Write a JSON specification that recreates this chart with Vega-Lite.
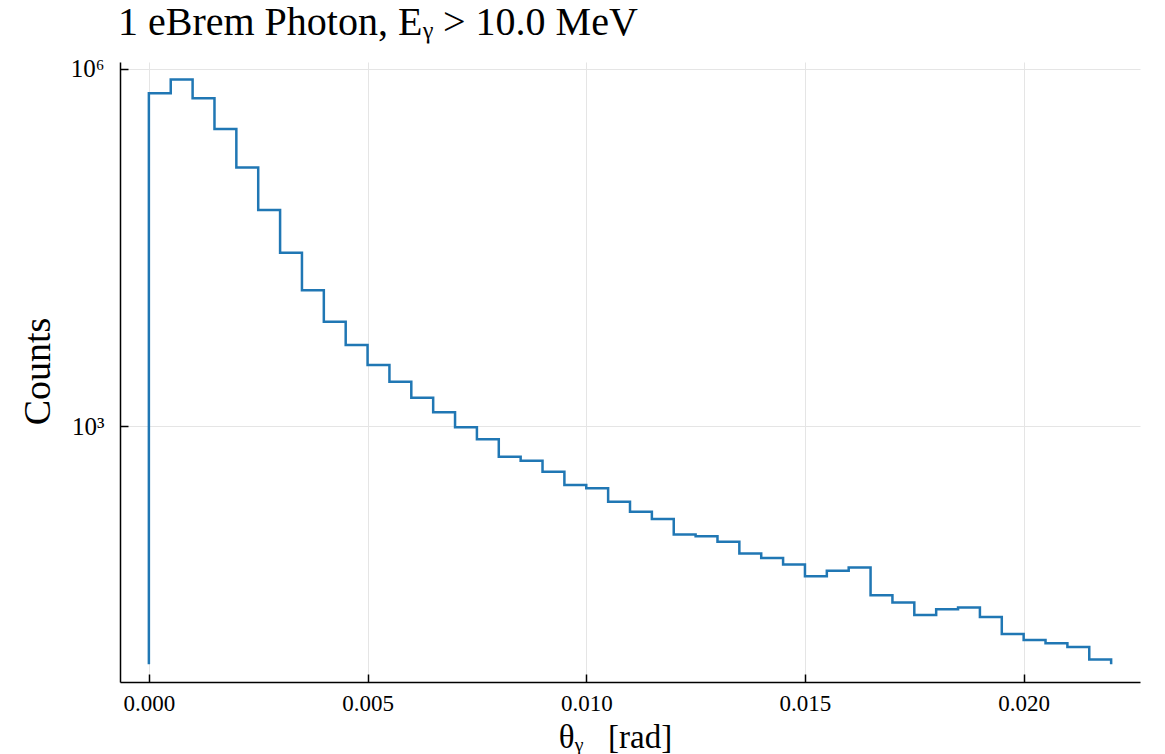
{
  "$schema": "https://vega.github.io/schema/vega-lite/v6.json",
  "width": 1020,
  "height": 620,
  "autosize": {"type": "none"},
  "padding": {"left": 120, "top": 62, "right": 25, "bottom": 72},
  "background": "white",
  "title": {
    "text": "1 eBrem Photon, Eᵧ > 10.0 MeV",
    "anchor": "start",
    "frame": "group",
    "font": "Liberation Serif",
    "fontSize": 40,
    "fontWeight": "normal",
    "color": "black",
    "baseline": "alphabetic",
    "offset": -18,
    "dx": -2
  },
  "config": {
    "view": {"stroke": null},
    "axis": {
      "labelFont": "Liberation Serif",
      "titleFont": "Liberation Serif",
      "labelColor": "black",
      "titleColor": "black",
      "titleFontWeight": "normal",
      "domainColor": "black",
      "domainWidth": 1.5,
      "tickColor": "black",
      "tickWidth": 1.5,
      "gridColor": "#e5e5e5",
      "gridWidth": 1
    }
  },
  "data": {
    "values": [
      {"i": 0, "theta": 0.0, "counts": 10},
      {"i": 1, "theta": 0.0, "counts": 620000},
      {"i": 2, "theta": 0.0005, "counts": 810000},
      {"i": 3, "theta": 0.001, "counts": 562000},
      {"i": 4, "theta": 0.0015, "counts": 311000},
      {"i": 5, "theta": 0.002, "counts": 148000},
      {"i": 6, "theta": 0.0025, "counts": 65000},
      {"i": 7, "theta": 0.003, "counts": 28500},
      {"i": 8, "theta": 0.0035, "counts": 13800},
      {"i": 9, "theta": 0.004, "counts": 7500},
      {"i": 10, "theta": 0.0045, "counts": 4780},
      {"i": 11, "theta": 0.005, "counts": 3250},
      {"i": 12, "theta": 0.0055, "counts": 2355},
      {"i": 13, "theta": 0.006, "counts": 1727},
      {"i": 14, "theta": 0.0065, "counts": 1303},
      {"i": 15, "theta": 0.007, "counts": 975},
      {"i": 16, "theta": 0.0075, "counts": 773},
      {"i": 17, "theta": 0.008, "counts": 553},
      {"i": 18, "theta": 0.0085, "counts": 512},
      {"i": 19, "theta": 0.009, "counts": 414},
      {"i": 20, "theta": 0.0095, "counts": 320},
      {"i": 21, "theta": 0.01, "counts": 300},
      {"i": 22, "theta": 0.0105, "counts": 232},
      {"i": 23, "theta": 0.011, "counts": 191},
      {"i": 24, "theta": 0.0115, "counts": 166},
      {"i": 25, "theta": 0.012, "counts": 123},
      {"i": 26, "theta": 0.0125, "counts": 119},
      {"i": 27, "theta": 0.013, "counts": 107},
      {"i": 28, "theta": 0.0135, "counts": 85},
      {"i": 29, "theta": 0.014, "counts": 78},
      {"i": 30, "theta": 0.0145, "counts": 69},
      {"i": 31, "theta": 0.015, "counts": 55},
      {"i": 32, "theta": 0.0155, "counts": 61},
      {"i": 33, "theta": 0.016, "counts": 65},
      {"i": 34, "theta": 0.0165, "counts": 38},
      {"i": 35, "theta": 0.017, "counts": 33},
      {"i": 36, "theta": 0.0175, "counts": 26},
      {"i": 37, "theta": 0.018, "counts": 29},
      {"i": 38, "theta": 0.0185, "counts": 30},
      {"i": 39, "theta": 0.019, "counts": 25},
      {"i": 40, "theta": 0.0195, "counts": 18},
      {"i": 41, "theta": 0.02, "counts": 16},
      {"i": 42, "theta": 0.0205, "counts": 15},
      {"i": 43, "theta": 0.021, "counts": 14},
      {"i": 44, "theta": 0.0215, "counts": 11},
      {"i": 45, "theta": 0.022, "counts": 11},
      {"i": 46, "theta": 0.022, "counts": 10}
    ]
  },
  "mark": {"type": "line", "interpolate": "step-after", "color": "#2077b4", "strokeWidth": 2.5, "clip": true},
  "encoding": {
    "order": {"field": "i", "type": "quantitative"},
    "x": {
      "field": "theta",
      "type": "quantitative",
      "scale": {"domain": [-0.00066, 0.02266], "nice": false, "zero": false},
      "axis": {
        "values": [0, 0.005, 0.01, 0.015, 0.02],
        "format": ".3f",
        "title": "θᵧ\u00a0\u00a0\u00a0[rad]",
        "titleFontSize": 33,
        "titleX": 495,
        "titleY": 65,
        "titleAlign": "center",
        "titleBaseline": "alphabetic",
        "labelFontSize": 23,
        "tickSize": -8,
        "labelPadding": 18,
        "grid": true
      }
    },
    "y": {
      "field": "counts",
      "type": "quantitative",
      "scale": {"type": "log", "domain": [7.11, 1135000], "nice": false},
      "axis": {
        "values": [1000, 1000000],
        "labelExpr": "datum.value == 1000 ? '10³' : '10⁶'",
        "title": "Counts",
        "titleFontSize": 38,
        "titleX": -82,
        "titleY": 309,
        "titleAngle": 270,
        "titleAlign": "center",
        "titleBaseline": "middle",
        "labelFontSize": 25,
        "tickSize": -8,
        "labelPadding": 24,
        "grid": true
      }
    }
  }
}
